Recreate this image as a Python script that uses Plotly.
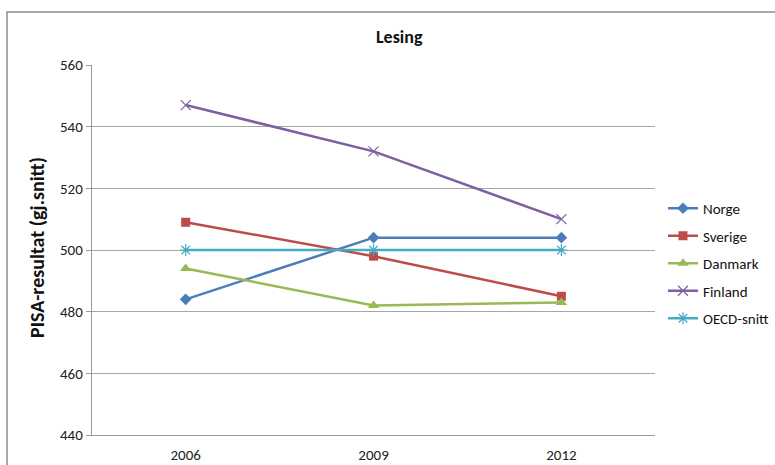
import plotly.graph_objects as go

years = ["2006", "2009", "2012"]
norge = [484, 504, 504]
sverige = [509, 498, 485]
danmark = [494, 482, 483]
finland = [547, 532, 510]
oecd = [500, 500, 500]

series = [
    ("Norge", norge, "#4A7EBB", "diamond", 9, 0),
    ("Sverige", sverige, "#BE4B48", "square", 9, 0),
    ("Danmark", danmark, "#98B954", "triangle-up", 10, 0),
    ("Finland", finland, "#7D60A0", "x-thin-open", 10, 1),
    ("OECD-snitt", oecd, "#46AAC5", "asterisk-open", 10, 1),
]

FONT = "Carlito, Calibri, Lato, sans-serif"
W, H = 775, 465

fig = go.Figure()
for i, (name, vals, col, sym, sz, lw) in enumerate(series):
    mk = dict(symbol=sym, size=sz, color=col)
    if lw:
        mk["line"] = dict(color=col, width=1.2)
    fig.add_trace(go.Scatter(
        x=years, y=vals, name=name, mode="lines+markers",
        line=dict(color=col, width=2.5), marker=mk,
        legendgroup=f"g{i}",
    ))

fig.update_layout(
    width=W, height=H,
    margin=dict(l=0, r=0, t=0, b=0),
    paper_bgcolor="white", plot_bgcolor="white",
    font=dict(family=FONT, size=15, color="#222"),
    showlegend=True,
    legend=dict(x=665 / W, xanchor="left", y=(H - 192) / H, yanchor="top",
                font=dict(family=FONT, size=15, color="#111"),
                tracegroupgap=5, itemwidth=30, bgcolor="rgba(0,0,0,0)"),
    xaxis=dict(type="category", showgrid=False, showline=True,
               domain=[92 / W, 657 / W], automargin=False,
               linecolor="#9a9a9a", linewidth=1, ticks="",
               ticklabelstandoff=6,
               tickfont=dict(family=FONT, size=15, color="#222"),
               range=[-0.5, 2.5]),
    yaxis=dict(range=[440, 560], dtick=20, showgrid=True,
               domain=[(H - 435) / H, (H - 65) / H], automargin=False,
               gridcolor="#a6a6a6", gridwidth=1, showline=True,
               linecolor="#9a9a9a", linewidth=1, ticks="outside",
               ticklen=5, tickcolor="#9a9a9a", zeroline=False,
               tickfont=dict(family=FONT, size=15, color="#222")),
    annotations=[
        dict(text="<b>Lesing</b>", x=401 / W, y=(H - 37) / H,
             xref="paper", yref="paper", showarrow=False,
             font=dict(family=FONT, size=18, color="#111"),
             xanchor="center", yanchor="middle"),
        dict(text="<b>PISA-resultat (gj.snitt)</b>", x=37 / W,
             y=(H - 247) / H, xref="paper", yref="paper",
             showarrow=False, textangle=-90,
             font=dict(family=FONT, size=20, color="#111"),
             xanchor="center", yanchor="middle"),
    ],
    shapes=[
        dict(type="rect", xref="paper", yref="paper",
             x0=7 / W, x1=1.2, y0=-0.2, y1=(H - 12) / H,
             line=dict(color="#8c8c8c", width=1.5), layer="below"),
    ],
)

fig.write_html("out.html")
